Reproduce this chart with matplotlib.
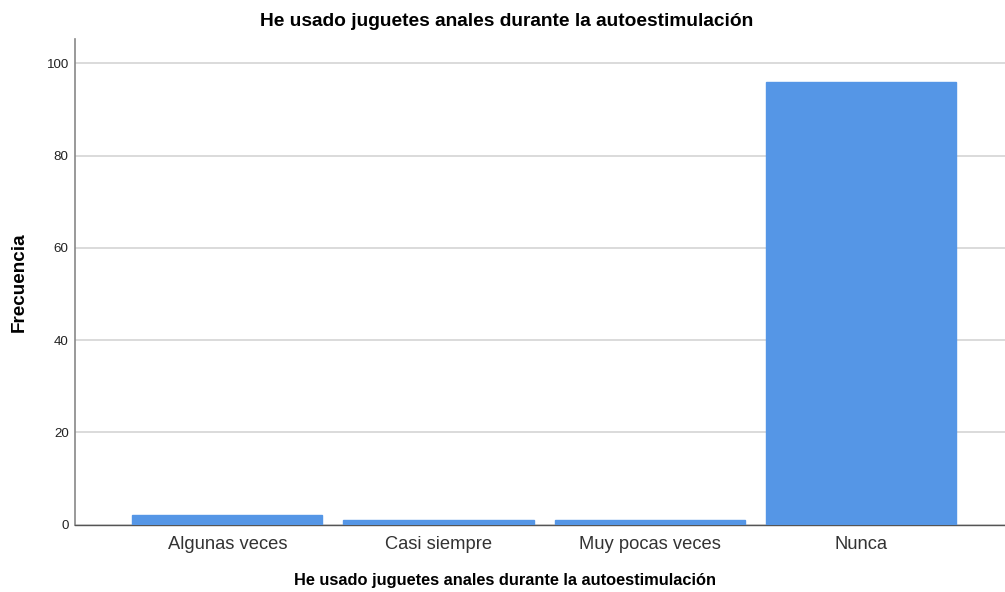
import matplotlib
matplotlib.use("Agg")
import matplotlib.pyplot as plt

categorias = ["Algunas veces", "Casi siempre", "Muy pocas veces", "Nunca"]
frecuencias = [2, 1, 1, 96]
titulo = "He usado juguetes anales durante la autoestimulación"

plt.rcParams['font.family'] = ['Liberation Sans', 'DejaVu Sans']

fig = plt.figure(figsize=(10.05, 5.92), dpi=100)
ax = fig.add_axes([75 / 1005, 1 - 524.5 / 592, 930 / 1005, (524.5 - 39) / 592])

x = list(range(len(categorias)))
ax.bar(x, frecuencias, width=0.9, color='#5596E6', edgecolor='#5596E6', zorder=3)

ax.set_xlim(-0.721, 3.682)
ax.set_ylim(0, 105.3)
ax.set_yticks([0, 20, 40, 60, 80, 100])
ax.set_xticks(x)
ax.set_xticklabels(categorias, fontsize=13.2, color='#333333')
ax.tick_params(axis='y', labelsize=9.6, length=0, pad=4.5, labelcolor='#222222')
ax.tick_params(axis='x', length=0, pad=8)
ax.yaxis.grid(True, color='#d4d4d4', linewidth=1.2, zorder=0)

for s in ['top', 'right']:
    ax.spines[s].set_visible(False)
ax.spines['left'].set_color('#888888')
ax.spines['left'].set_linewidth(1.2)
ax.spines['bottom'].set_color('#555555')
ax.spines['bottom'].set_linewidth(1.0)

fig.text(507 / 1005, 1 - 22 / 592, titulo, ha='center', va='center',
         fontsize=13.8, fontweight='bold')
fig.text(505 / 1005, 1 - 581 / 592, titulo, ha='center', va='center',
         fontsize=11.8, fontweight='bold')
fig.text(19 / 1005, 1 - 282 / 592, "Frecuencia", ha='center', va='center',
         rotation=90, fontsize=13.6, fontweight='bold')

fig.savefig("out.png", dpi=100)
